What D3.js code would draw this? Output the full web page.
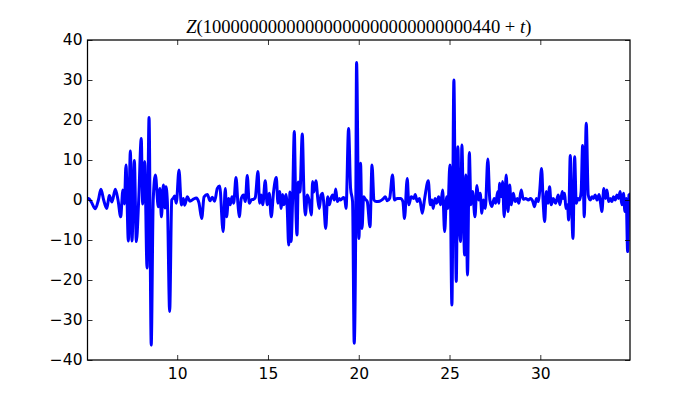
<!DOCTYPE html>
<html>
<head>
<meta charset="utf-8">
<script src="https://cdn.jsdelivr.net/npm/d3@7"></script>
<style>
  html, body { margin: 0; padding: 0; background: #fff; }
  svg { display: block; }
</style>
</head>
<body>
<svg id="chart" width="700" height="400"></svg>
<script>
// ---- data ----
const titleDigits = "10000000000000000000000000000440";
const xDomain = [5.06, 34.94];
const yDomain = [-40, 40];
const xTicks = [10, 15, 20, 25, 30];
const xTickLabels = ["10", "15", "20", "25", "30"];
const yTicks = [-40, -30, -20, -10, 0, 10, 20, 30, 40];
const yTickLabels = ["\u221240", "\u221230", "\u221220", "\u221210", "0", "10", "20", "30", "40"];

const tValues = [
  5.06, 5.12, 5.27, 5.49, 5.66, 5.80, 5.95, 6.12, 6.21, 6.26, 6.41, 6.59, 6.74, 6.89, 6.96, 7.00, 7.09,
  7.18, 7.31, 7.42, 7.51, 7.64, 7.75, 7.88, 8.02, 8.10, 8.21, 8.34, 8.45, 8.57, 8.68, 8.80, 8.96,
  9.05, 9.13, 9.24, 9.33, 9.38, 9.46, 9.585, 9.70, 9.79, 9.86, 9.95, 10.10, 10.23, 10.34, 10.41,
  10.56, 10.70, 10.89, 11.05, 11.20, 11.35, 11.48, 11.66, 11.81, 11.93, 12.06, 12.21, 12.34, 12.53,
  12.65, 12.72, 12.83, 12.92, 13.02, 13.11, 13.24, 13.35, 13.42, 13.53, 13.66, 13.75, 13.86, 13.97,
  14.08, 14.21, 14.30, 14.45, 14.54, 14.63, 14.71, 14.85, 14.96, 15.07, 15.18, 15.31, 15.46, 15.55,
  15.64, 15.73, 15.81, 15.88, 15.99, 16.06, 16.14, 16.21, 16.27, 16.36, 16.45, 16.52, 16.60, 16.67,
  16.76, 16.89, 16.98, 17.06, 17.17, 17.28, 17.39, 17.46, 17.53, 17.64, 17.75, 17.83, 17.92, 18.01,
  18.08, 18.18, 18.29, 18.38, 18.47, 18.56, 18.65, 18.73, 18.82, 18.93, 19.00, 19.15, 19.24, 19.30,
  19.44, 19.55, 19.66, 19.75, 19.83, 19.88, 20.01, 20.10, 20.18, 20.27, 20.36, 20.47, 20.62, 20.73,
  20.84, 20.96, 21.15, 21.33, 21.46, 21.57, 21.70, 21.86, 21.97, 22.12, 22.30, 22.43, 22.52, 22.67,
  22.76, 22.89, 23.04, 23.11, 23.22, 23.35, 23.50, 23.63, 23.83, 23.94, 24.03, 24.10, 24.20, 24.29,
  24.40, 24.51, 24.62, 24.73, 24.84, 24.91, 25.02, 25.13, 25.24, 25.32, 25.37, 25.46, 25.54, 25.61,
  25.68, 25.76, 25.83, 25.90, 25.99, 26.09, 26.18, 26.27, 26.40, 26.51, 26.60, 26.69, 26.78, 26.86,
  26.97, 27.11, 27.22, 27.33, 27.46, 27.54, 27.66, 27.71, 27.76, 27.85, 27.92, 28.01, 28.12, 28.22,
  28.31, 28.40, 28.51, 28.62, 28.73, 28.82, 28.95, 29.06, 29.19, 29.34, 29.46, 29.59, 29.68, 29.79,
  29.89, 29.96, 30.07, 30.16, 30.24, 30.33, 30.42, 30.51, 30.60, 30.71, 30.84, 30.99, 31.08, 31.21,
  31.26, 31.34, 31.41, 31.50, 31.56, 31.65, 31.72, 31.80, 31.89, 31.98, 32.07, 32.16, 32.25, 32.33,
  32.42, 32.53, 32.64, 32.75, 32.84, 32.93, 33.02, 33.13, 33.24, 33.32, 33.39, 33.50, 33.59, 33.67,
  33.76, 33.85, 33.94, 34.03, 34.13, 34.22, 34.31, 34.40, 34.49, 34.58, 34.66, 34.73, 34.81, 34.88,
  34.94
];
const zValues = [
  0.4, 0.4, -0.5, -2.2, 0, 2.7, 0, -2.1, 0, 1.1, -0.5, 2.7, 0, -4.2, 0, 2.5, -1,
  8.75, -10.25, 12.25, -10.25, 9.9, -10.4, 0, 15.4, -1, 9.6, -17, 20.6, -36.25, 0, 6.25, -1.7,
  2.9, -4.2, 3.75, -2, 3.3, -0.5, -27.9, 0, 0.5, 1, -0.8, 7.5, -1.25, 0.4, -1.3,
  0.8, -0.3, 0.2, 0.5, -0.7, -4.6, 0.8, 1.4, -0.2, 0.7, -0.3, 2.9, 3.5, -7.9,
  2.9, -4.2, 0.4, -1.2, 0.8, -0.8, 5.6, -1.2, -4.2, 0.4, 1.25, -0.4, 6.1, -0.8,
  0, 0.2, 0.6, 7.1, -0.8, 1.25, -1.2, 4.8, -1.2, 1.7, -4.2, 2.1, 5.6, -0.8,
  2.1, -2.1, 1.4, -1.2, 1.4, -2.1, -11.25, 2, -10.4, 0.5, 17.1, 1, -8.75, 4.5,
  2, 16.5, 2, -3.75, 1.25, -0.4, -3.75, 4.6, 2, 4.8, 0, -2.1, 1.25, 1.7,
  -1.2, -7.1, 0.8, -1.2, 0.4, 1.25, 0, 2.75, -0.4, 0.4, 0, 0.6, 0, -2.1,
  17.9, 2.9, -0.4, -35.8, -8.75, 34.4, -9.6, 9.2, -7.1, 0.8, 0.2, -0.4, -6.7, 8.75,
  0, -0.4, -0.3, 0.2, 0.8, -0.2, 0.4, 6.25, 0, 0.4, 0.4, -0.4, -4.6, 5.4,
  -1.2, 0.8, 0.4, 1.4, -0.4, 0.4, -3.3, 0.4, 4.8, -1.2, 0, -2.1, 0.4, -0.8,
  0.8, -1.2, 2.5, -7.9, 0.8, -2.1, 8.75, -26.25, 30, -5.4, -20.4, 13.3, -5.4, -10.4,
  13.75, -2.1, -13.75, 6.25, -18.75, 11.9, -1.2, 2.1, -4.2, 3.6, 0, 1.7, -3.3, 0,
  -2.1, 10.25, 0, -1.6, 0.4, -0.8, 2.1, -0.8, 4.2, 0.8, 4.6, -4.2, 6.25, -2.9,
  3.75, -1.2, 1.7, -0.4, 0.4, -0.8, 2.5, 0.2, 0.4, 0, 0.4, -0.4, -1.7, 0.4,
  -0.4, 1.9, 7.9, -0.8, -5.4, 2.1, -0.8, 3.3, -1.2, 0.4, -0.8, 1.25, -1.2, 2.1,
  0.4, 1.7, -2.1, -1.2, -5, 11.1, -0.4, -9.6, 10.8, -0.8, 0.4, 0, 2.1, 13.6,
  -4.2, 19.2, 1.25, 0, 0.8, 0.4, 1.25, 0, 1.4, -0.8, -2.9, 2.9, 0.4, 2.5,
  -0.4, 0.4, -0.4, 0.8, 0, 1.25, 0.4, 2.1, -1.2, 1.7, -2.9, 0.4, -12.9, 1.25,
  1.5
];

// ---- drawing ----
const svg = d3.select("#chart");
const mLeft = 87.5, mRight = 630, mTop = 40, mBottom = 360;

const x = d3.scaleLinear().domain(xDomain).range([mLeft, mRight]);
const y = d3.scaleLinear().domain(yDomain).range([mBottom, mTop]);

svg.append("rect").attr("x", 0).attr("y", 0).attr("width", 700).attr("height", 400).attr("fill", "#fff");

svg.append("defs").append("clipPath").attr("id", "clip")
  .append("rect").attr("x", mLeft).attr("y", mTop).attr("width", mRight - mLeft).attr("height", mBottom - mTop);

const data = tValues.map((t, i) => [t, zValues[i]]);
const line = d3.line().x(d => x(d[0])).y(d => y(d[1])).curve(d3.curveMonotoneX);

svg.append("path")
  .datum(data)
  .attr("clip-path", "url(#clip)")
  .attr("fill", "none")
  .attr("stroke", "#0000ff")
  .attr("stroke-width", 3)
  .attr("stroke-linejoin", "round")
  .attr("stroke-linecap", "round")
  .attr("d", line);

// axes (ticks pointing inward, on all four sides)
const tickLen = 5;
const fontFamily = "DejaVu Sans, sans-serif";

const gxb = svg.append("g").attr("transform", `translate(0,${mBottom})`)
  .call(d3.axisBottom(x).tickValues(xTicks).tickSizeInner(-tickLen).tickSizeOuter(0)
    .tickPadding(8).tickFormat((d, i) => xTickLabels[i]));
gxb.select(".domain").remove();

const gxt = svg.append("g").attr("transform", `translate(0,${mTop})`)
  .call(d3.axisTop(x).tickValues(xTicks).tickSizeInner(-tickLen).tickSizeOuter(0).tickFormat(""));
gxt.select(".domain").remove();

const gyl = svg.append("g").attr("transform", `translate(${mLeft},0)`)
  .call(d3.axisLeft(y).tickValues(yTicks).tickSizeInner(-tickLen).tickSizeOuter(0)
    .tickPadding(5).tickFormat((d, i) => yTickLabels[i]));
gyl.select(".domain").remove();

const gyr = svg.append("g").attr("transform", `translate(${mRight},0)`)
  .call(d3.axisRight(y).tickValues(yTicks).tickSizeInner(-tickLen).tickSizeOuter(0).tickFormat(""));
gyr.select(".domain").remove();

svg.selectAll(".tick line").attr("stroke", "#000").attr("stroke-width", 0.8);
svg.selectAll(".tick text").attr("fill", "#000").attr("font-family", fontFamily).attr("font-size", 15.5);

// frame
svg.append("rect")
  .attr("x", mLeft).attr("y", mTop).attr("width", mRight - mLeft).attr("height", mBottom - mTop)
  .attr("fill", "none").attr("stroke", "#000").attr("stroke-width", 1.25);

// title (math-style)
const title = svg.append("text")
  .attr("x", (mLeft + mRight) / 2).attr("y", 33)
  .attr("text-anchor", "middle")
  .attr("font-family", "Liberation Serif, DejaVu Serif, serif")
  .attr("font-size", 18.6)
  .attr("fill", "#000");
title.append("tspan").attr("font-style", "italic").text("Z");
title.append("tspan").text("(" + titleDigits + " ");
title.append("tspan").text("+");
title.append("tspan").text(" ");
title.append("tspan").attr("font-style", "italic").text("t");
title.append("tspan").text(")");
</script>
</body>
</html>
